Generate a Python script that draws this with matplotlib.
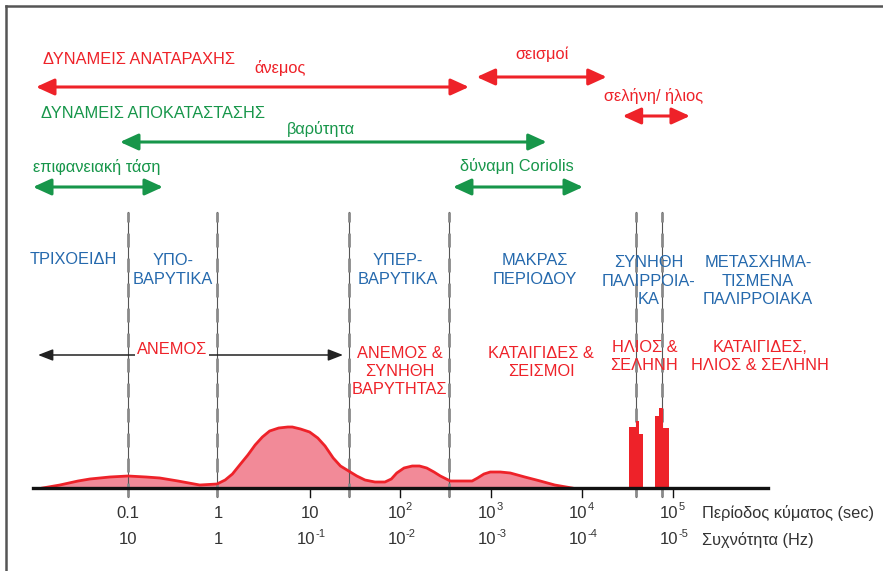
import matplotlib
matplotlib.use('Agg')
import matplotlib.pyplot as plt
from matplotlib.lines import Line2D

plt.rcParams['font.family'] = ['Liberation Sans', 'DejaVu Sans']

RED = '#EE2229'
PINK = '#F28A98'
GREEN = '#17964A'
BLUE = '#2569AD'
GREY = '#333333'

# ------------------------------------------------------------
# dados (eixo x = log10 do período em segundos)
# ------------------------------------------------------------
espectro_logT = [-1.94, -1.75, -1.55, -1.42, -1.20, -1.00, -0.80, -0.65, -0.45, -0.21,
                 -0.02, 0.07, 0.15, 0.23, 0.32, 0.40, 0.48, 0.56, 0.66, 0.76,
                 0.81, 0.90, 1.00, 1.09, 1.17, 1.26, 1.34, 1.43, 1.52, 1.61,
                 1.72, 1.83, 1.90, 1.96, 2.04, 2.13, 2.21, 2.29, 2.37, 2.44,
                 2.55, 2.67, 2.79, 2.85, 2.92, 2.99, 3.10, 3.21, 3.37, 3.54,
                 3.70, 3.89]
espectro_energia = [0, 3, 7, 9, 11, 12, 11, 10, 7, 3,
                    4, 8, 14, 23, 33, 43, 51, 57, 60, 61,
                    61, 59, 56, 50, 42, 30, 22, 17, 12, 8,
                    6, 6, 9, 15, 20, 22, 22, 20, 16, 12,
                    7, 7, 7, 10, 14, 16, 16, 15, 11, 7,
                    3, 0]

mares_bordas = [4.518, 4.592, 4.632, 4.669, 4.804, 4.848, 4.895, 4.955]
mares_energia = [61, 67, 54, 0, 72, 80, 60]

limites_logT = [-1.0, -0.02, 1.434, 2.539, 4.595, 4.878]

ticks_logT = [-1, 0, 1, 2, 3, 4, 5]
ticks_periodo = ['0.1', '1', '10', '10|2', '10|3', '10|4', '10|5']
ticks_freq = ['10', '1', '10|-1', '10|-2', '10|-3', '10|-4', '10|-5']

# (rótulo, logT início, logT fim, cor)
forcas = [
    ('άνεμος', -2.013, 2.755, RED),
    ('σεισμοί', 2.840, 4.272, RED),
    ('σελήνη/ ήλιος', 4.448, 5.189, RED),
    ('βαρύτητα', -1.088, 3.611, GREEN),
    ('επιφανειακή τάση', -2.046, -0.615, GREEN),
    ('δύναμη Coriolis', 2.579, 4.011, GREEN),
]

tipos_ondas = ['ΤΡΙΧΟΕΙΔΗ', 'ΥΠΟ-\nΒΑΡΥΤΙΚΑ', 'ΥΠΕΡ-\nΒΑΡΥΤΙΚΑ', 'ΜΑΚΡΑΣ\nΠΕΡΙΟΔΟΥ',
               'ΣΥΝΗΘΗ\nΠΑΛΙΡΡΟΙΑ-\nΚΑ', 'ΜΕΤΑΣΧΗΜΑ-\nΤΙΣΜΕΝΑ\nΠΑΛΙΡΡΟΙΑΚΑ']
causas = ['ΑΝΕΜΟΣ &\nΣΥΝΗΘΗ\nΒΑΡΥΤΗΤΑΣ', 'ΚΑΤΑΙΓΙΔΕΣ &\nΣΕΙΣΜΟΙ',
          'ΗΛΙΟΣ &\nΣΕΛΗΝΗ', 'ΚΑΤΑΙΓΙΔΕΣ,\nΗΛΙΟΣ & ΣΕΛΗΝΗ']

FS = 11.8

# ------------------------------------------------------------
# figura
# ------------------------------------------------------------
fig = plt.figure(figsize=(8.83, 5.71), dpi=100)
ax = fig.add_axes([0, 0, 1, 1])
ax.set_xlim(-2.4097, 7.315)
ax.set_ylim(-83, 488)
ax.axis('off')

# moldura
fig.add_artist(Line2D([0.0068, 0.0068], [0, 0.989], color='#555555', lw=1.8))
fig.add_artist(Line2D([0.0068, 1], [0.989, 0.989], color='#555555', lw=1.8))

# linhas verticais tracejadas
for x in limites_logT:
    ax.plot([x, x], [-9, 276], color='#555555', lw=0.8, zorder=3)
    ax.plot([x, x], [-9, 276], color='#8a8a8a', lw=2.0, ls=(0, (5, 4)), zorder=3)

# espectro
ax.fill_between(espectro_logT, espectro_energia, color=PINK, lw=0, zorder=2)
ax.plot(espectro_logT, espectro_energia, color=RED, lw=2, zorder=4)
ax.stairs(mares_energia, mares_bordas, fill=True, color=RED, zorder=5)

# eixo
ax.plot([-2.046, 6.05], [0, 0], color='#111111', lw=2.4, zorder=6)
for x in ticks_logT[2:]:
    ax.plot([x, x], [0, -9], color='#111111', lw=1.0, zorder=6)


def potencia(x, y, rotulo):
    # "10" com expoente pequeno (hífen em vez de sinal de menos, como no original)
    if '|' not in rotulo:
        ax.text(x, y, rotulo, ha='center', va='center', fontsize=12, color=GREY)
        return
    base, exp = rotulo.split('|')
    ax.text(x + 0.06, y, base, ha='right', va='center', fontsize=12, color=GREY)
    ax.annotate(exp, xy=(x + 0.06, y), xytext=(0, 4), textcoords='offset points',
                ha='left', va='center', fontsize=8, color=GREY)


for x, a, b in zip(ticks_logT, ticks_periodo, ticks_freq):
    potencia(x, -25, a)
    potencia(x, -52, b)
ax.text(5.321, -25, 'Περίοδος κύματος (sec)', ha='left', va='center', fontsize=FS, color=GREY)
ax.text(5.321, -52, 'Συχνότητα (Hz)', ha='left', va='center', fontsize=FS, color=GREY)

# forças
ax.text(-1.936, 428, 'ΔΥΝΑΜΕΙΣ ΑΝΑΤΑΡΑΧΗΣ', ha='left', va='center', fontsize=FS, color=RED)
ax.text(-1.961, 375, 'ΔΥΝΑΜΕΙΣ ΑΠΟΚΑΤΑΣΤΑΣΗΣ', ha='left', va='center', fontsize=FS, color=GREEN)

rotulo_xy = [(0.674, 420), (3.556, 434), (4.793, 392), (1.126, 359), (-1.345, 321), (3.284, 322)]
seta_y = [401, 411, 372, 346, 301, 301]
for (nome, x0, x1, cor), (tx, ty), sy in zip(forcas, rotulo_xy, seta_y):
    ax.text(tx, ty, nome, ha='center', va='center', fontsize=FS, color=cor)
    ax.annotate('', xy=(x1, sy), xytext=(x0, sy),
                arrowprops=dict(arrowstyle='<|-|>,head_length=1.1,head_width=0.5',
                                color=cor, lw=2.2, mutation_scale=10,
                                shrinkA=0, shrinkB=0))

# tipos de ondas
tipos_xy = [(-1.606, 229), (-0.508, 218), (1.974, 218), (3.482, 218), (4.734, 207), (5.938, 207)]
for nome, (x, y) in zip(tipos_ondas, tipos_xy):
    ax.text(x, y, nome, ha='center', va='center', fontsize=FS, color=BLUE,
            linespacing=1.3, zorder=7)

# causas
ax.annotate('', xy=(1.368, 133), xytext=(-1.991, 133),
            arrowprops=dict(arrowstyle='<|-|>,head_length=0.9,head_width=0.35',
                            color='#222222', lw=1.1, mutation_scale=10,
                            shrinkA=0, shrinkB=0), zorder=6)
ax.text(-0.515, 138, 'ΑΝΕΜΟΣ', ha='center', va='center', fontsize=FS, color=RED,
        bbox=dict(facecolor='white', edgecolor='none', pad=1.5), zorder=8)
causas_xy = [(1.993, 117), (3.548, 126), (4.688, 132), (5.965, 132)]
for nome, (x, y) in zip(causas, causas_xy):
    ax.text(x, y, nome, ha='center', va='center', fontsize=FS, color=RED,
            linespacing=1.25, zorder=7)

plt.savefig('out.png', dpi=100)
plt.close()
